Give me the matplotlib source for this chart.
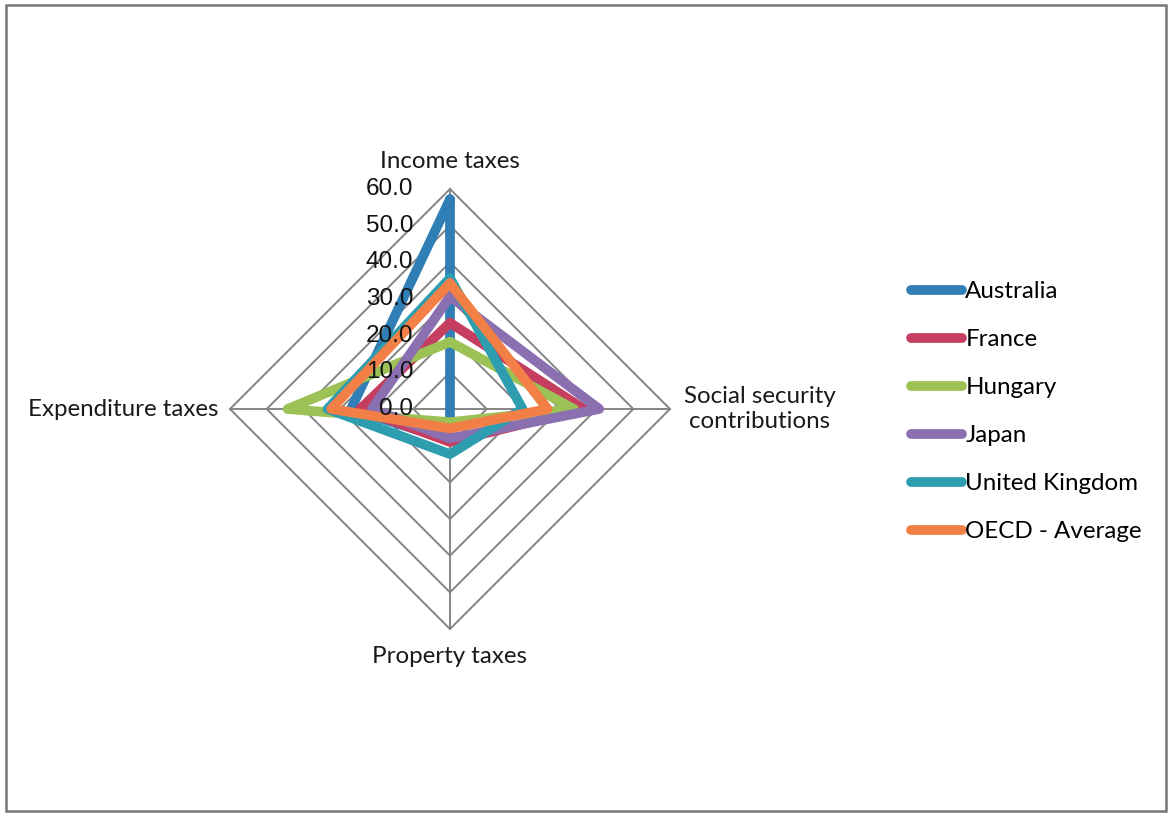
import numpy as np
import matplotlib
matplotlib.use('Agg')
import matplotlib.pyplot as plt
from matplotlib.patches import Rectangle

categories = ['Income taxes', 'Social security\ncontributions', 'Property taxes', 'Expenditure taxes']
countries = ['Australia', 'France', 'Hungary', 'Japan', 'United Kingdom', 'OECD - Average']

australia = [57.2, 0.0, 8.5, 27.0]
france = [23.5, 36.5, 9.0, 24.5]
hungary = [18.3, 33.8, 3.6, 44.3]
japan = [30.7, 40.7, 8.0, 21.3]
uk = [35.7, 19.8, 12.3, 33.4]
oecd = [34.3, 26.6, 5.3, 32.4]

ticks = [0, 10, 20, 30, 40, 50, 60]
tick_labels = ['0.0', '10.0', '20.0', '30.0', '40.0', '50.0', '60.0']

series = [australia, france, hungary, japan, uk, oecd]
colors = ['#2F7FB6', '#C53D5F', '#9CC255', '#8A70B0', '#2E9DB0', '#F27F45']

# axes clockwise from the top
angles = np.deg2rad([90, 0, 270, 180])

W, H = 1169, 813
fig = plt.figure(figsize=(W / 100, H / 100), dpi=100)

cx, cy = 450, 813 - 409
px_per_unit = 220 / 60
half = 66
ax = fig.add_axes([(cx - half * px_per_unit) / W, (cy - half * px_per_unit) / H,
                   2 * half * px_per_unit / W, 2 * half * px_per_unit / H])
ax.set_xlim(-half, half)
ax.set_ylim(-half, half)
ax.axis('off')

grid_col = '#858585'
ca = np.append(np.cos(angles), np.cos(angles[0]))
sa = np.append(np.sin(angles), np.sin(angles[0]))
for r in ticks[1:]:
    ax.plot(r * ca, r * sa, color=grid_col, lw=1.4, zorder=1)
for a in angles:
    ax.plot([0, 60 * np.cos(a)], [0, 60 * np.sin(a)], color=grid_col, lw=1.4, zorder=1)

for name, vals, col in zip(countries, series, colors):
    v = np.append(vals, vals[0])
    ax.plot(v * ca, v * sa, color=col, lw=7, solid_joinstyle='round',
            solid_capstyle='round', label=name, zorder=2)

for t, lab in zip(ticks, tick_labels):
    ax.text(-10, t, lab, ha='right', va='center', fontsize=17.5,
            family='Liberation Sans', color='#111111', zorder=3)

lab_font = dict(fontsize=17.4, family='Lato', color='#1a1a1a')
ax.text(0, 67.6, categories[0], ha='center', va='center', clip_on=False, **lab_font)
ax.text(84.5, 0, categories[1], ha='center', va='center', clip_on=False,
        linespacing=1.2, **lab_font)
ax.text(0, -67.6, categories[2], ha='center', va='center', clip_on=False, **lab_font)
ax.text(-63, 0, categories[3], ha='right', va='center', clip_on=False, **lab_font)

leg = fig.legend(loc='upper left', bbox_to_anchor=(911 / W, 1 - 281 / H),
                 frameon=False, prop={'family': 'Lato', 'size': 17.4},
                 handlelength=2.1, handletextpad=0.15, labelspacing=1.12,
                 borderpad=0, borderaxespad=0)
for line in leg.get_lines():
    line.set_linewidth(7)
    line.set_solid_capstyle('round')

fig.patches.append(Rectangle((6 / W, 2 / H), 1160 / W, 806 / H, transform=fig.transFigure,
                             fill=False, edgecolor='#777777', lw=1.8))

fig.savefig('out.png', dpi=100, facecolor='white')
